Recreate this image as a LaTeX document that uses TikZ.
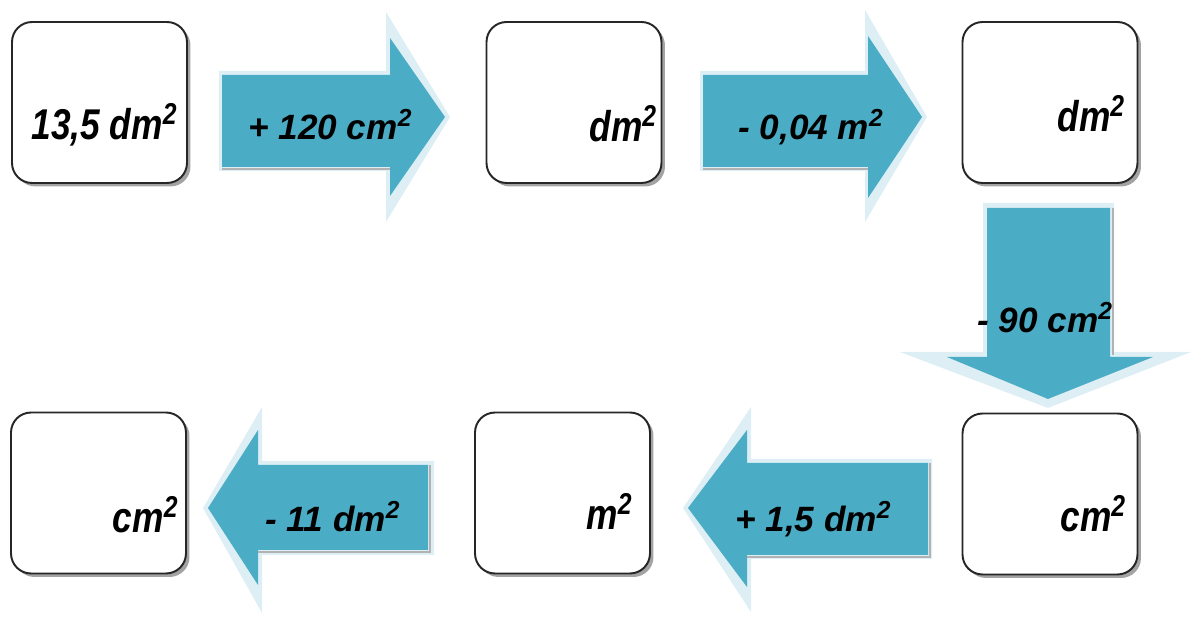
\documentclass[tikz,border=0pt]{standalone}
\usepackage{fontspec}
\setmainfont{Liberation Sans}
\newfontfamily\narrowfont{Liberation Sans}[FakeStretch=0.82]
\usetikzlibrary{shadows}
\definecolor{arrowblue}{RGB}{75,172,198}
\definecolor{arrowhalo}{RGB}{221,239,245}
\definecolor{boxshadow}{RGB}{140,140,140}
\newcommand{\sq}{\textsuperscript{2}}
\tikzset{
  valbox/.style={
    draw=black!85, line width=1.1pt, fill=white,
    rounded corners=0.4cm,
    minimum width=3.5cm,
    minimum height=3.22cm,
    drop shadow={shadow xshift=0.07cm, shadow yshift=-0.07cm, fill=boxshadow, opacity=0.8}
  },
  vallbl/.style={font=\fontsize{24.5}{28}\selectfont\narrowfont\bfseries\itshape, inner sep=0pt, anchor=base east},
  oplbl/.style={font=\fontsize{20}{24}\selectfont\bfseries\itshape, inner sep=0pt, anchor=base west},
  halo/.style={fill=arrowhalo},
  arrowbody/.style={fill=arrowblue},
  arrowshade/.style={draw=black!30, line width=1.5pt}
}

\begin{document}
\begin{tikzpicture}[x=0.02cm, y=-0.02cm]
\useasboundingbox (0,0) rectangle (1191,617);

% Boxes
\node[valbox] (box1) at (99.5, 102.5) {};
\node[valbox] (box2) at (574, 102.5) {};
\node[valbox] (box3) at (1050, 102.5) {};
\node[valbox] (box4) at (1050, 494) {};
\node[valbox] (box5) at (562.5, 493) {};
\node[valbox] (box6) at (98.5, 493) {};

% Box labels
\node[vallbl, xshift=-0.2cm] (val1) at (box1.east |- {0,140}) {13,5 dm\sq};
\node[vallbl, xshift=-0.1cm] (val2) at (box2.east |- {0,142}) {dm\sq};
\node[vallbl, xshift=-0.26cm] (val3) at (box3.east |- {0,132}) {dm\sq};
\node[vallbl, xshift=-0.24cm] (val4) at (box4.east |- {0,532}) {cm\sq};
\node[vallbl, xshift=-0.36cm] (val5) at (box5.east |- {0,530}) {m\sq};
\node[vallbl, xshift=-0.16cm] (val6) at (box6.east |- {0,533}) {cm\sq};

% Arrow + 120 cm2
\fill[halo] (219,71) -- (386,71) -- (386,12) -- (450,117) -- (386,222) -- (386,171) -- (219,171) -- cycle;
\fill[arrowbody] (222,75) -- (390,75) -- (390,38) -- (445,117) -- (390,196) -- (390,167) -- (222,167) -- cycle;
\draw[arrowshade] (222,169) -- (390,169);
\node[oplbl] (op1) at (248,140) {+ 120 cm\sq};

% Arrow - 0,04 m2
\fill[halo] (700,71) -- (865,71) -- (865,10) -- (927,117) -- (865,222) -- (865,171) -- (700,171) -- cycle;
\fill[arrowbody] (703,75) -- (868,75) -- (868,36) -- (922,117) -- (868,198) -- (868,167) -- (703,167) -- cycle;
\draw[arrowshade] (703,169) -- (868,169);
\node[oplbl] (op2) at (738,140) {- 0,04 m\sq};

% Arrow - 90 cm2 (down)
\fill[halo] (983,203) -- (1114,203) -- (1114,352) -- (1191,352) -- (1048,408) -- (900,352) -- (983,352) -- cycle;
\fill[arrowbody] (987,208) -- (1110,208) -- (1110,357) -- (1153,357) -- (1048,399) -- (947,357) -- (987,357) -- cycle;
\draw[arrowshade] (1113,208) -- (1113,355);
\node[oplbl] (op3) at (977,333) {- 90 cm\sq};

% Arrow + 1,5 dm2 (left)
\fill[halo] (932,459) -- (751,459) -- (751,407) -- (683,508) -- (751,612) -- (751,559) -- (932,559) -- cycle;
\fill[arrowbody] (928,463) -- (747,463) -- (747,430) -- (688,508) -- (747,587) -- (747,555) -- (928,555) -- cycle;
\draw[arrowshade] (747,557) -- (930,557) -- (930,463);
\node[oplbl] (op4) at (735,532) {+ 1,5 dm\sq};

% Arrow - 11 dm2 (left)
\fill[halo] (434,461) -- (262,461) -- (262,407) -- (203,508) -- (262,613) -- (262,555) -- (434,555) -- cycle;
\fill[arrowbody] (428,465) -- (258,465) -- (258,430) -- (208,508) -- (258,585) -- (258,550) -- (428,550) -- cycle;
\draw[arrowshade] (258,552) -- (430,552) -- (430,465);
\node[oplbl] (op5) at (265,532) {- 11 dm\sq};

\end{tikzpicture}
\end{document}
